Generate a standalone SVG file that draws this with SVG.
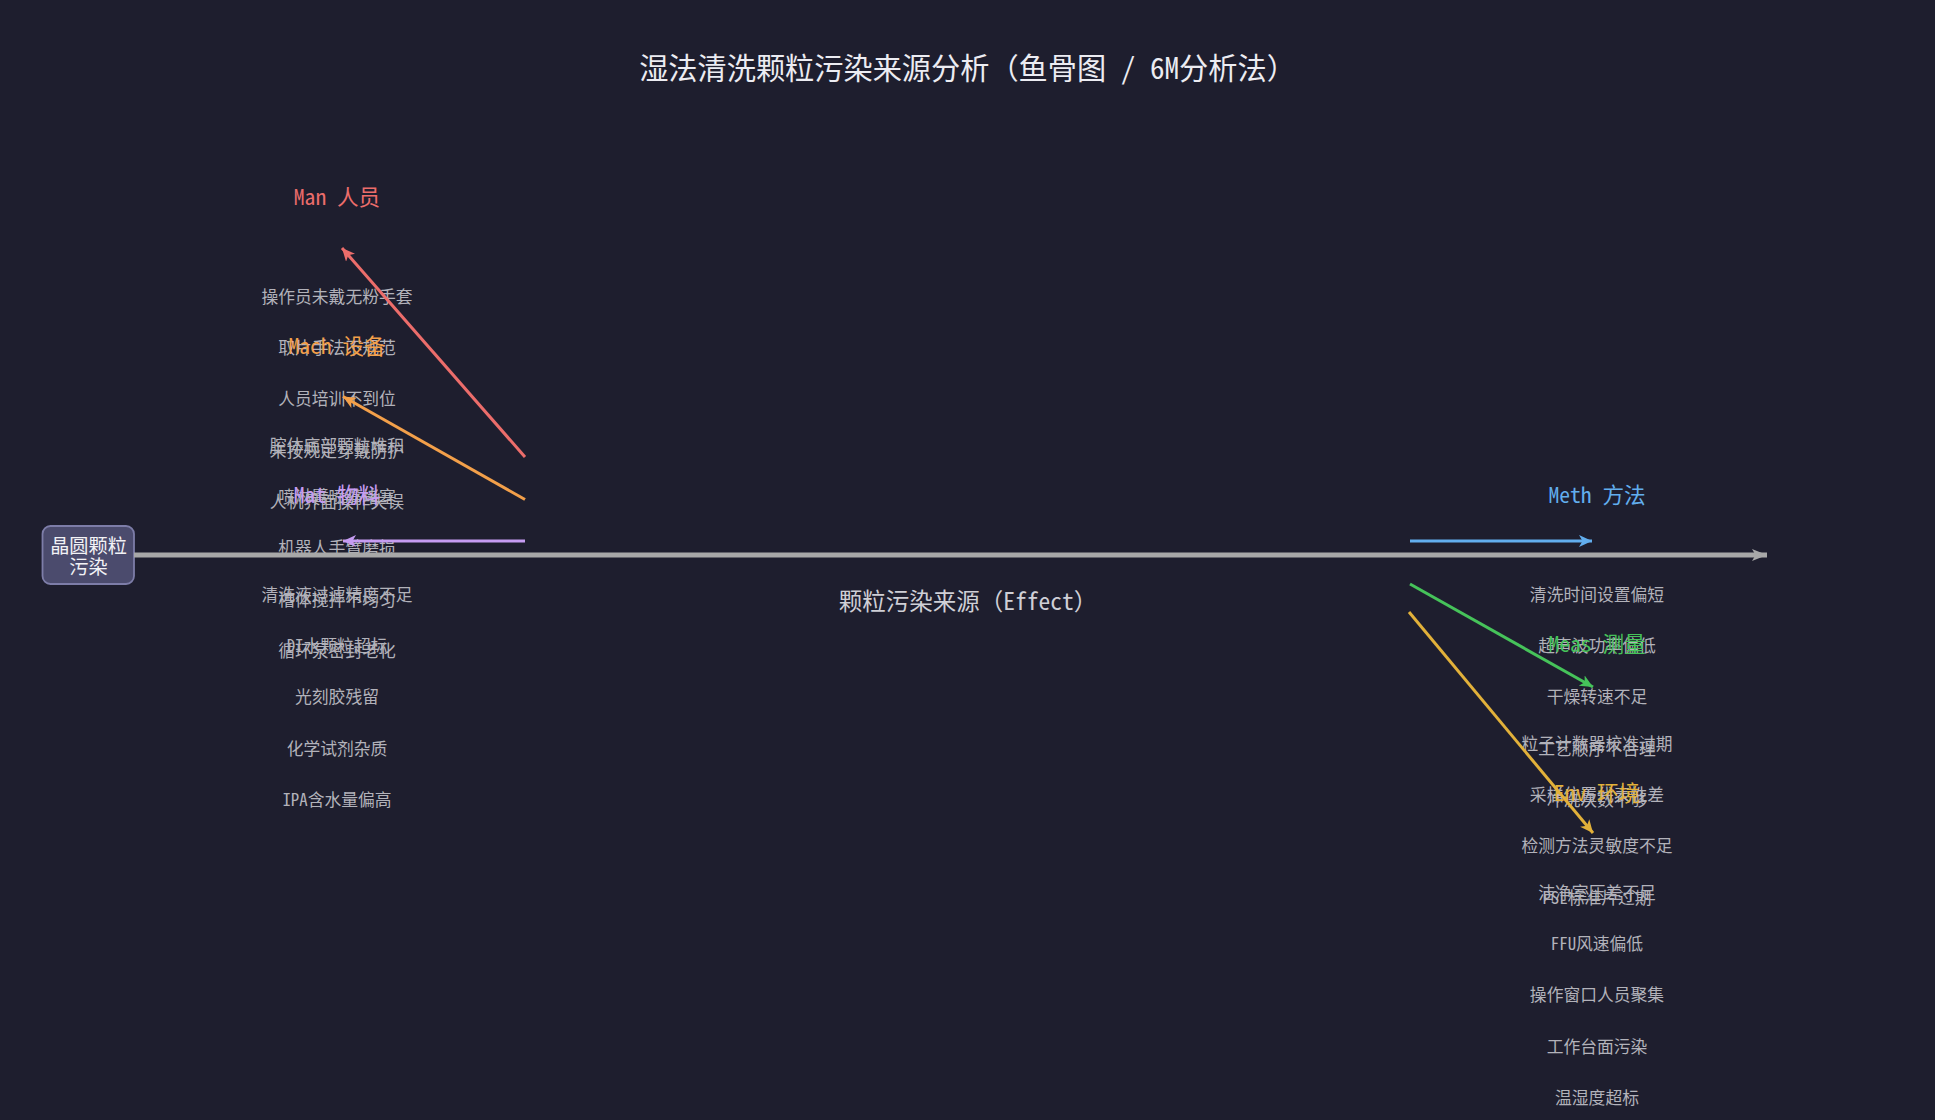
<svg xmlns="http://www.w3.org/2000/svg" width="1935" height="1120" viewBox="0 0 1935 1120">
  <defs>
    <style>
      text { font-family: "Noto Sans Mono CJK SC", "Noto Sans CJK SC", "DejaVu Sans Mono", monospace; text-anchor: middle; dominant-baseline: central; }
      .title { font-size: 29.2px; fill: #ececf2; }
      .effect { font-size: 23.5px; fill: #cfcfd6; }
      .head { font-size: 19.2px; fill: #f2f2f6; }
      .cat { font-size: 21.6px; }
      .cause { font-size: 16.8px; fill: #b2b2ba; }
      .bone { fill: none; stroke-width: 3; }
    </style>
    <marker id="ahMan" markerUnits="userSpaceOnUse" markerWidth="14" markerHeight="13" refX="13" refY="6" orient="auto"><path d="M0,0 L13,6 L0,12 L3.5,6 z" fill="#ec6d6b"/></marker>
    <marker id="ahMach" markerUnits="userSpaceOnUse" markerWidth="14" markerHeight="13" refX="13" refY="6" orient="auto"><path d="M0,0 L13,6 L0,12 L3.5,6 z" fill="#f3a04a"/></marker>
    <marker id="ahMat" markerUnits="userSpaceOnUse" markerWidth="14" markerHeight="13" refX="13" refY="6" orient="auto"><path d="M0,0 L13,6 L0,12 L3.5,6 z" fill="#c69cf2"/></marker>
    <marker id="ahMeth" markerUnits="userSpaceOnUse" markerWidth="14" markerHeight="13" refX="13" refY="6" orient="auto"><path d="M0,0 L13,6 L0,12 L3.5,6 z" fill="#62aeee"/></marker>
    <marker id="ahMeas" markerUnits="userSpaceOnUse" markerWidth="14" markerHeight="13" refX="13" refY="6" orient="auto"><path d="M0,0 L13,6 L0,12 L3.5,6 z" fill="#46c35a"/></marker>
    <marker id="ahEnv" markerUnits="userSpaceOnUse" markerWidth="14" markerHeight="13" refX="13" refY="6" orient="auto"><path d="M0,0 L13,6 L0,12 L3.5,6 z" fill="#e2b13a"/></marker>
    <marker id="ahSpine" markerUnits="userSpaceOnUse" markerWidth="16" markerHeight="13" refX="15" refY="6" orient="auto"><path d="M0,0 L15,6 L0,12 L3.5,6 z" fill="#a8a8a8"/></marker>
  </defs>
  <rect x="0" y="0" width="1935" height="1120" fill="#1e1e2e"/>

  <g id="title"><text class="title" x="967.5" y="66">湿法清洗颗粒污染来源分析（鱼骨图 / 6M分析法）</text></g>

  <g id="head">
    <rect x="42.5" y="526" width="91.5" height="58" rx="8" fill="#4b4b6d" stroke="#7d7da8" stroke-width="1.8"/>
    <text class="head" x="88.5" y="545">晶圆颗粒</text>
    <text class="head" x="88.5" y="566">污染</text>
  </g>

  <g id="effect"><text class="effect" x="968" y="600">颗粒污染来源（Effect）</text></g>

  <g id="cat-man">
    <text class="cat" x="337" y="195" fill="#ec6d6b">Man 人员</text>
    <text class="cause" x="337" y="296">操作员未戴无粉手套</text>
    <text class="cause" x="337" y="347.2">取片手法不规范</text>
    <text class="cause" x="337" y="398.4">人员培训不到位</text>
    <text class="cause" x="337" y="449.6">未按规定穿戴防护</text>
    <text class="cause" x="337" y="500.8">人机界面操作失误</text>
  </g>

  <g id="cat-mach">
    <text class="cat" x="337" y="344" fill="#f3a04a">Mach 设备</text>
    <text class="cause" x="337" y="445">腔体底部颗粒堆积</text>
    <text class="cause" x="337" y="496.2">喷淋臂喷嘴堵塞</text>
    <text class="cause" x="337" y="547.4">机器人手臂磨损</text>
    <text class="cause" x="337" y="598.6">槽体搅拌不均匀</text>
    <text class="cause" x="337" y="649.8">循环泵密封老化</text>
  </g>

  <g id="cat-mat">
    <text class="cat" x="337" y="493" fill="#c69cf2">Mat 物料</text>
    <text class="cause" x="337" y="594">清洗液过滤精度不足</text>
    <text class="cause" x="337" y="645.2">DI水颗粒超标</text>
    <text class="cause" x="337" y="696.4">光刻胶残留</text>
    <text class="cause" x="337" y="747.6">化学试剂杂质</text>
    <text class="cause" x="337" y="798.8">IPA含水量偏高</text>
  </g>

  <g id="cat-meth">
    <text class="cat" x="1597" y="493" fill="#62aeee">Meth 方法</text>
    <text class="cause" x="1597" y="594">清洗时间设置偏短</text>
    <text class="cause" x="1597" y="645.2">超声波功率偏低</text>
    <text class="cause" x="1597" y="696.4">干燥转速不足</text>
    <text class="cause" x="1597" y="747.6">工艺顺序不合理</text>
    <text class="cause" x="1597" y="798.8">冲洗次数不够</text>
  </g>

  <g id="cat-meas">
    <text class="cat" x="1597" y="642" fill="#46c35a">Meas 测量</text>
    <text class="cause" x="1597" y="743">粒子计数器校准过期</text>
    <text class="cause" x="1597" y="794.2">采样位置代表性差</text>
    <text class="cause" x="1597" y="845.4">检测方法灵敏度不足</text>
    <text class="cause" x="1597" y="896.6">PSL标准片过期</text>
  </g>

  <g id="cat-env">
    <text class="cat" x="1597" y="791" fill="#e2b13a">Env 环境</text>
    <text class="cause" x="1597" y="892">洁净室压差不足</text>
    <text class="cause" x="1597" y="943.2">FFU风速偏低</text>
    <text class="cause" x="1597" y="994.4">操作窗口人员聚集</text>
    <text class="cause" x="1597" y="1045.6">工作台面污染</text>
    <text class="cause" x="1597" y="1096.8">温湿度超标</text>
  </g>

  <g id="connectors">
    <line x1="134" y1="555" x2="1767" y2="555" stroke="#a8a8a8" stroke-width="4.8" marker-end="url(#ahSpine)"/>
    <line class="bone" x1="525" y1="457" x2="342" y2="248" stroke="#ec6d6b" marker-end="url(#ahMan)"/>
    <line class="bone" x1="525" y1="499.5" x2="343" y2="396.5" stroke="#f3a04a" marker-end="url(#ahMach)"/>
    <line class="bone" x1="525" y1="541" x2="343" y2="541" stroke="#c69cf2" marker-end="url(#ahMat)"/>
    <line class="bone" x1="1410" y1="541" x2="1592" y2="541" stroke="#62aeee" marker-end="url(#ahMeth)"/>
    <line class="bone" x1="1410" y1="584" x2="1593" y2="687" stroke="#46c35a" marker-end="url(#ahMeas)"/>
    <line class="bone" x1="1409" y1="612" x2="1593" y2="833" stroke="#e2b13a" marker-end="url(#ahEnv)"/>
  </g>
</svg>
